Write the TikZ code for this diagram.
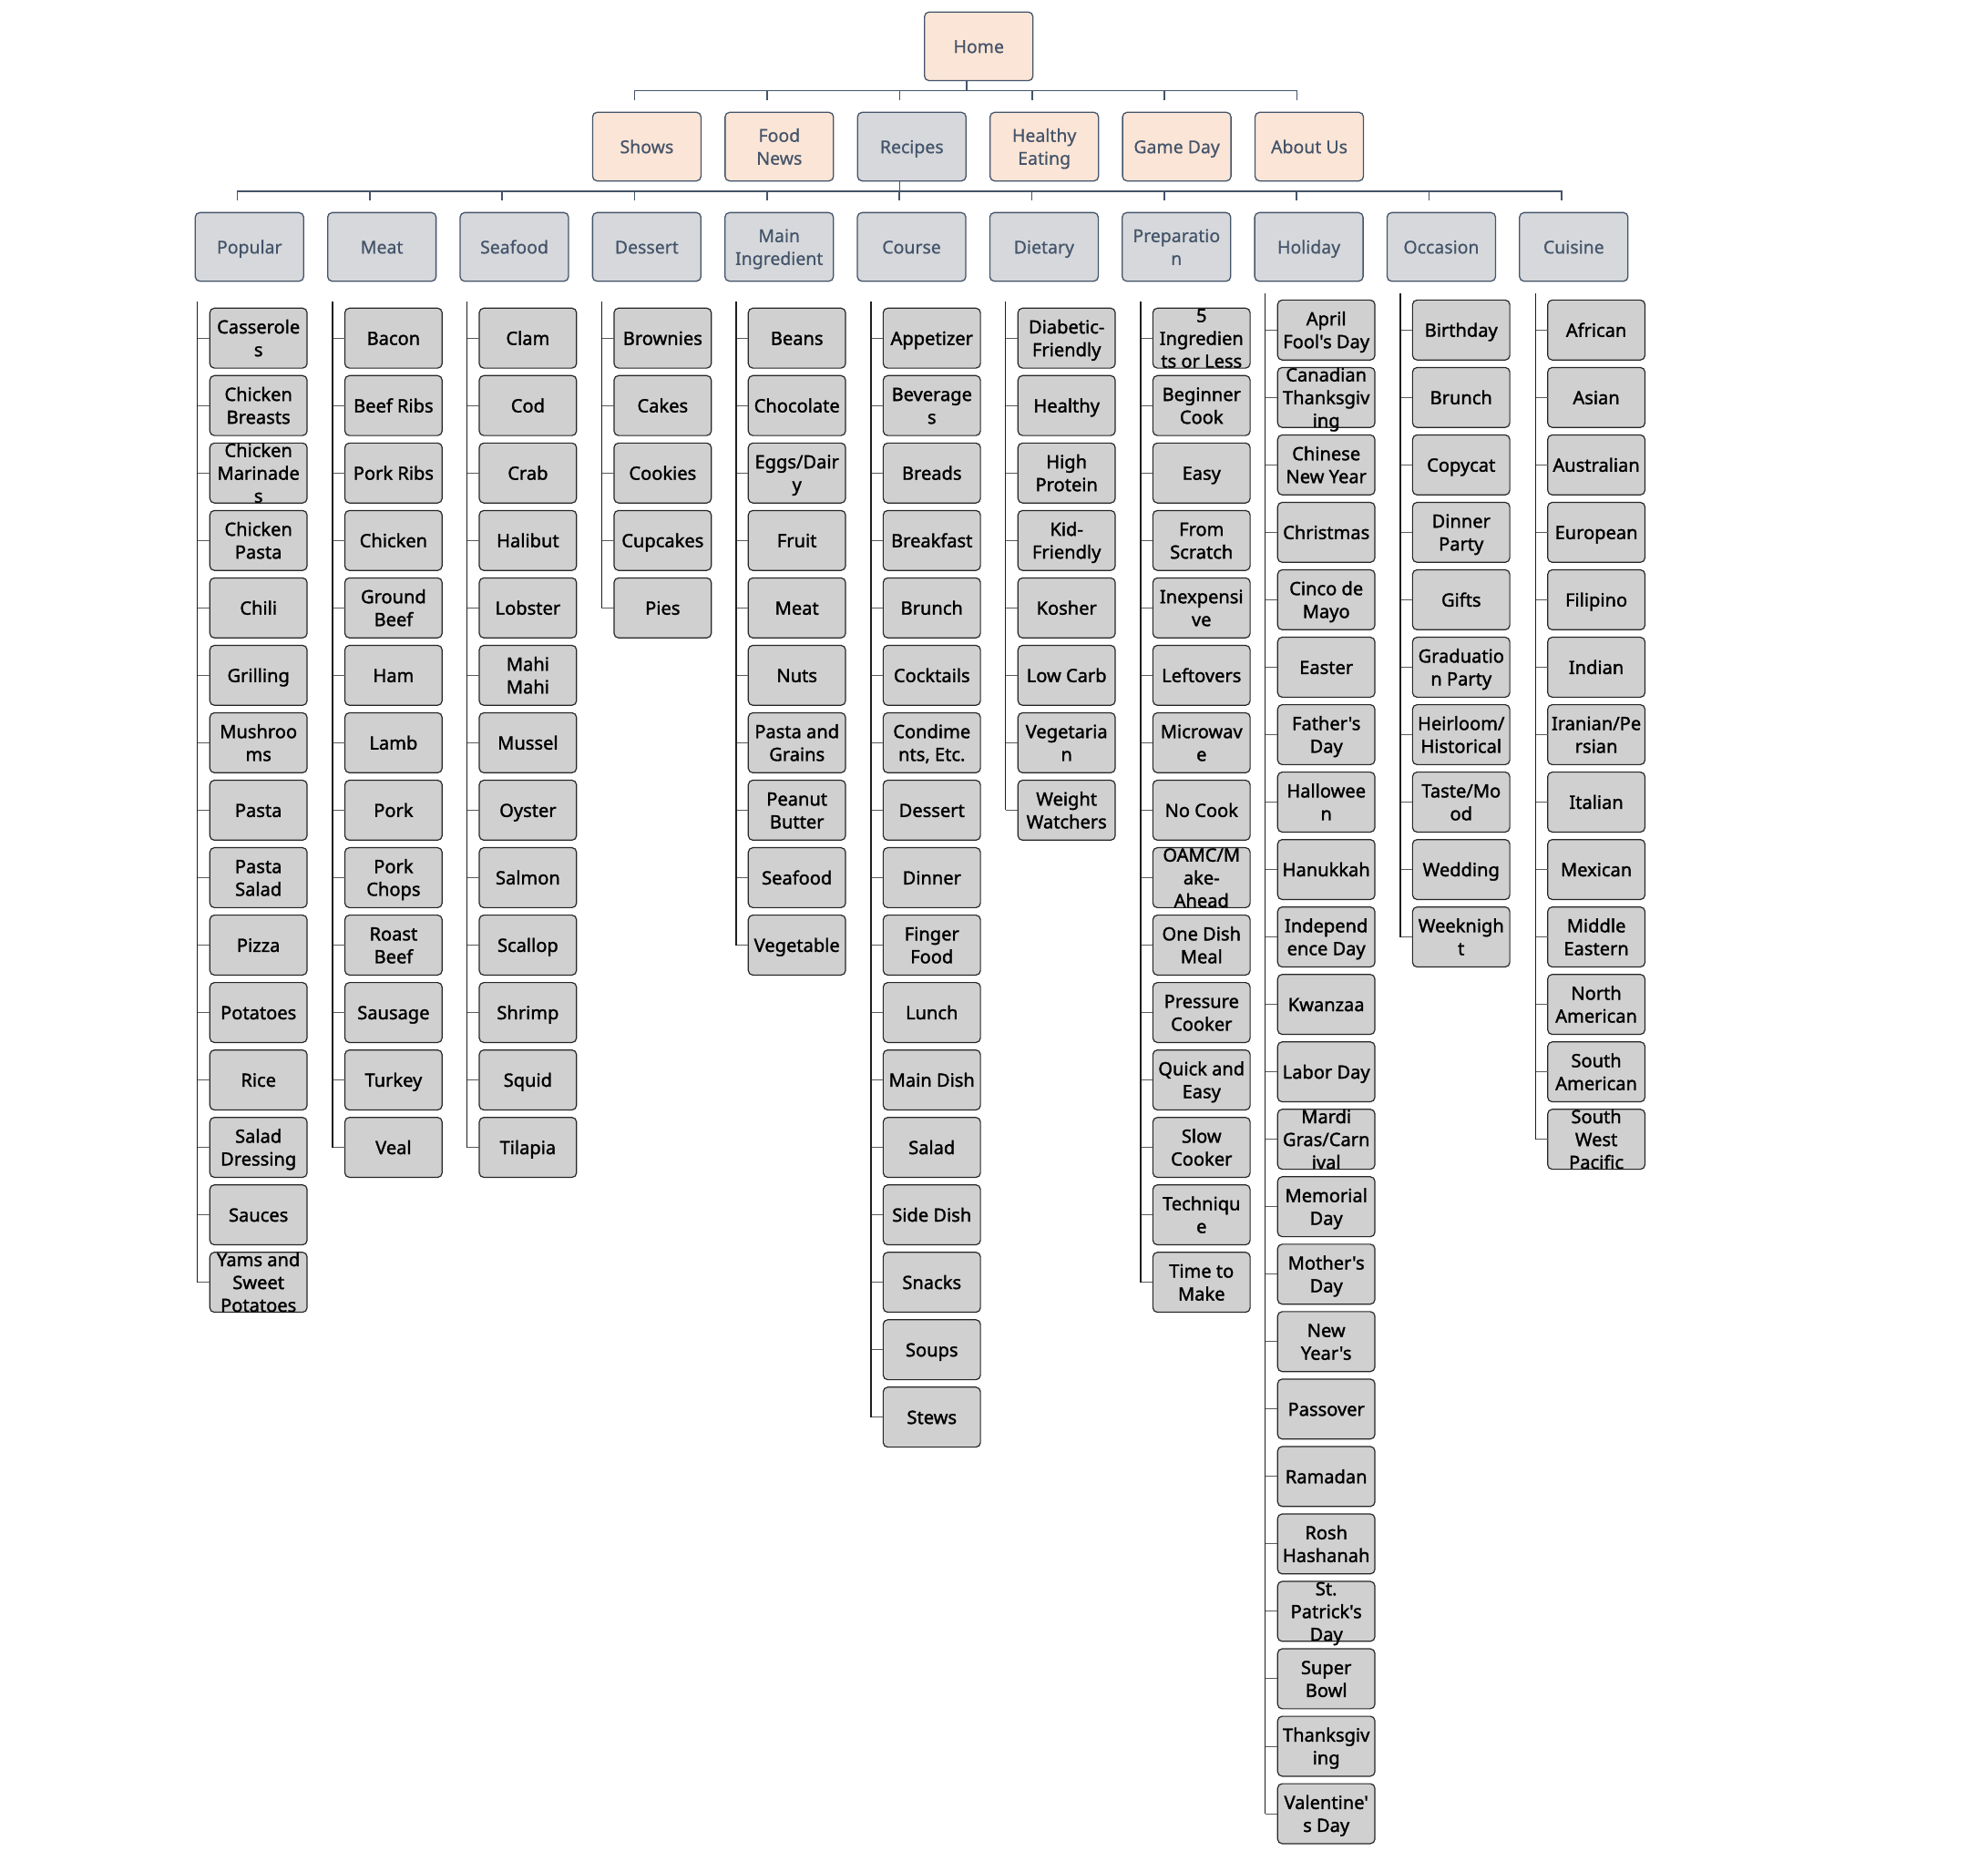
\documentclass[tikz,border=0pt]{standalone}
\usepackage{fontspec}
\setmainfont{Noto Sans}
\newfontfamily\leaffont{Noto Sans}[FakeBold=1.5,Ligatures=TeXOff]
\newfontfamily\hdrfont{Noto Sans}[FakeBold=0.6]
\definecolor{slate}{HTML}{44546A}
\definecolor{peach}{HTML}{FBE5D6}
\definecolor{catgray}{HTML}{D6D8DB}
\definecolor{leafgray}{HTML}{D0D0D0}
\definecolor{leafedge}{HTML}{262626}
\definecolor{vcol}{HTML}{1E1E1E}
\definecolor{stubcol}{HTML}{5A5A5A}
\newcommand\mystrut{\vphantom{Agl}}
\newcommand\mlbl[1]{\makebox[0pt][c]{\raisebox{-3.6pt}[0pt][0pt]{\parbox[c]{90pt}{\centering\baselineskip=12.6pt\mystrut #1\mystrut}}}}
\tikzset{
  hdr/.style={rectangle, rounded corners=2.5pt, draw=slate, line width=0.65pt,
    minimum width=59.85pt, minimum height=37.9pt, inner sep=0pt, outer sep=0pt,
    anchor=north west, text=slate, font=\hdrfont\fontsize{9.8}{12.6}\selectfont},
  topbox/.style={hdr, fill=peach},
  catbox/.style={hdr, fill=catgray},
  leaf/.style={rectangle, rounded corners=2.5pt, draw=leafedge, line width=0.6pt,
    fill=leafgray, minimum width=53.7pt, minimum height=33.1pt, inner sep=0pt,
    outer sep=0pt, anchor=north west, text=black,
    font=\leaffont\fontsize{10.1}{12.6}\selectfont},
  bus/.style={draw=slate, line width=0.8pt},
  vline/.style={draw=vcol, line width=0.7pt},
  stub/.style={draw=stubcol, line width=0.5pt},
}
% name, x, y, count, list
\newcommand\leafcol[5]{%
  \foreach \lbltext [count=\i] in {#5} {
    \node[leaf] (#1-\i) at (#2,{#3+(\i-1)*53.2}) {\mlbl{\lbltext}};
    \draw[stub] (#1-\i.west) -- ([xshift=-6.8pt]#1-\i.west);
  }
  \draw[vline] ([xshift=-6.8pt,yshift=3.5pt]#1-1.north west) -- ([xshift=-6.8pt]#1-#4.west);
}
\begin{document}
\begin{tikzpicture}[x=0.7pt,y=-0.7pt]
\useasboundingbox (0,0) rectangle (1568,1460);
% level 0 and 1
\node[topbox] (home) at (729.2,9.5) {\mlbl{Home}};
\node[topbox] (shows) at (467.4,88.6) {\mlbl{Shows}};
\node[topbox] (news) at (571.9,88.6) {\mlbl{Food\\News}};
\node[catbox] (recipes) at (676.4,88.6) {\mlbl{Recipes}};
\node[topbox] (healthy) at (780.9,88.6) {\mlbl{Healthy\\Eating}};
\node[topbox] (gameday) at (885.4,88.6) {\mlbl{Game Day}};
\node[topbox] (about) at (989.9,88.6) {\mlbl{About Us}};
% level 2
\node[catbox] (popular) at (154,167.7) {\mlbl{Popular}};
\node[catbox] (meat) at (258.45,167.7) {\mlbl{Meat}};
\node[catbox] (seafood) at (362.9,167.7) {\mlbl{Seafood}};
\node[catbox] (dessert) at (467.35,167.7) {\mlbl{Dessert}};
\node[catbox] (mainingr) at (571.8,167.7) {\mlbl{Main\\Ingredient}};
\node[catbox] (course) at (676.25,167.7) {\mlbl{Course}};
\node[catbox] (dietary) at (780.7,167.7) {\mlbl{Dietary}};
\node[catbox] (prep) at (885.15,167.7) {\mlbl{Preparatio\\n}};
\node[catbox] (holiday) at (989.6,167.7) {\mlbl{Holiday}};
\node[catbox] (occasion) at (1094.05,167.7) {\mlbl{Occasion}};
\node[catbox] (cuisine) at (1198.5,167.7) {\mlbl{Cuisine}};
% connectors
\coordinate (hb) at ([xshift=23.2pt]home.south west);
\coordinate (bus1) at (0,71.5);
\foreach \c in {shows,news,recipes,healthy,gameday,about}
  \draw[bus] (hb) -- (hb |- bus1) -| ([xshift=23.2pt,yshift=6.6pt]\c.north west);
\coordinate (rb) at ([xshift=23.2pt]recipes.south west);
\coordinate (bus2) at (0,151);
\foreach \c in {popular,meat,seafood,dessert,mainingr,course,dietary,prep,holiday,occasion,cuisine}
  \draw[bus] (rb) -- (rb |- bus2) -| ([xshift=23.2pt,yshift=6.6pt]\c.north west);
% leaves
\leafcol{pop}{165.5}{243.1}{15}{{Casserole\\s},{Chicken\\Breasts},{Chicken\\Marinade\\s},{Chicken\\Pasta},Chili,Grilling,{Mushroo\\ms},Pasta,{Pasta\\Salad},Pizza,Potatoes,Rice,{Salad\\Dressing},Sauces,{Yams and\\Sweet\\Potatoes}}
\leafcol{mt}{272}{243.1}{13}{Bacon,Beef Ribs,Pork Ribs,Chicken,{Ground\\Beef},Ham,Lamb,Pork,{Pork\\Chops},{Roast\\Beef},Sausage,Turkey,Veal}
\leafcol{sf}{378}{243.1}{13}{Clam,Cod,Crab,Halibut,Lobster,{Mahi\\Mahi},Mussel,Oyster,Salmon,Scallop,Shrimp,Squid,Tilapia}
\leafcol{ds}{484.3}{243.1}{5}{Brownies,Cakes,Cookies,Cupcakes,Pies}
\leafcol{mi}{590.2}{243.1}{10}{Beans,Chocolate,{Eggs/Dair\\y},Fruit,Meat,Nuts,{Pasta and\\Grains},{Peanut\\Butter},Seafood,Vegetable}
\leafcol{cs}{696.6}{243.1}{17}{Appetizer,{Beverage\\s},Breads,Breakfast,Brunch,Cocktails,{Condime\\nts, Etc.},Dessert,Dinner,{Finger\\Food},Lunch,Main Dish,Salad,Side Dish,Snacks,Soups,Stews}
\leafcol{dt}{802.9}{243.1}{8}{{Diabetic-\\Friendly},Healthy,{High\\Protein},{Kid-\\Friendly},Kosher,Low Carb,{Vegetaria\\n},{Weight\\Watchers}}
\leafcol{pr}{909.3}{243.1}{15}{{5\\Ingredien\\ts or Less},{Beginner\\Cook},Easy,{From\\Scratch},{Inexpensi\\ve},Leftovers,{Microwav\\e},No Cook,{OAMC/M\\ake-\\Ahead},{One Dish\\Meal},{Pressure\\Cooker},{Quick and\\Easy},{Slow\\Cooker},{Techniqu\\e},{Time to\\Make}}
\leafcol{hd}{1007.7}{236.7}{23}{{April\\Fool's Day},{Canadian\\Thanksgiv\\ing},{Chinese\\New Year},Christmas,{Cinco de\\Mayo},Easter,{Father's\\Day},{Hallowee\\n},Hanukkah,{Independ\\ence Day},Kwanzaa,Labor Day,{Mardi\\Gras/Carn\\ival},{Memorial\\Day},{Mother's\\Day},{New\\Year's},Passover,Ramadan,{Rosh\\Hashanah},{St.\\Patrick's\\Day},{Super\\Bowl},{Thanksgiv\\ing},{Valentine'\\s Day}}
\leafcol{oc}{1114.1}{236.7}{10}{Birthday,Brunch,Copycat,{Dinner\\Party},Gifts,{Graduatio\\n Party},{Heirloom/\\Historical},{Taste/Mo\\od},Wedding,{Weeknigh\\t}}
\leafcol{cu}{1220.7}{236.7}{13}{African,Asian,Australian,European,Filipino,Indian,{Iranian/Pe\\rsian},Italian,Mexican,{Middle\\Eastern},{North\\American},{South\\American},{South\\West\\Pacific}}
\end{tikzpicture}
\end{document}
